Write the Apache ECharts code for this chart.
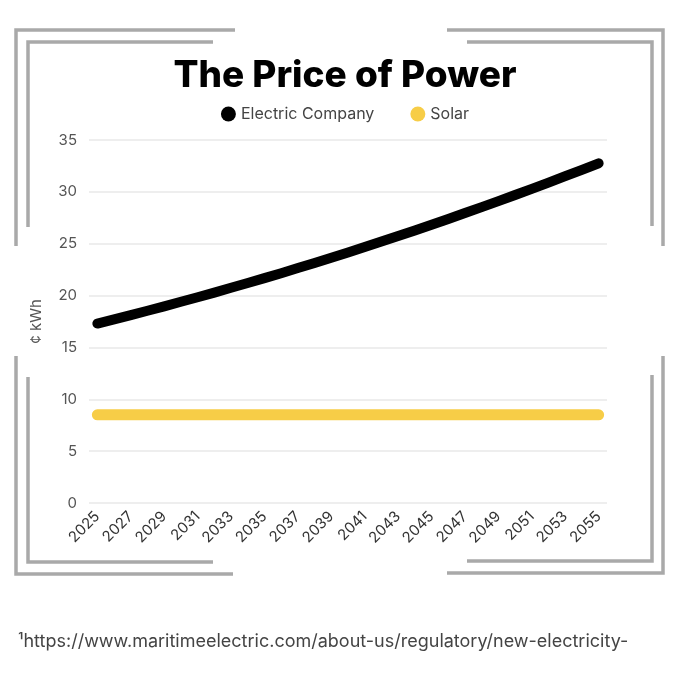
<!DOCTYPE html>
<html>
<head>
<meta charset="utf-8">
<script src="https://cdn.jsdelivr.net/npm/echarts@6/dist/echarts.min.js"></script>
<style>
  html, body { margin: 0; padding: 0; background: #fff; }
  #chart { width: 690px; height: 674px; }
</style>
</head>
<body>
<div id="chart"></div>
<script>
// years on the x axis
const years = [];
for (let y = 2025; y <= 2055; y++) years.push(String(y));

// ¢ per kWh
const electricCompany = [
  17.30, 17.70, 18.12, 18.54, 18.96, 19.40, 19.84, 20.29, 20.75, 21.21,
  21.68, 22.16, 22.65, 23.15, 23.65, 24.16, 24.68, 25.21, 25.74, 26.28,
  26.83, 27.39, 27.96, 28.53, 29.11, 29.70, 30.29, 30.89, 31.51, 32.12, 32.75
];
const solar = [
  8.5, 8.5, 8.5, 8.5, 8.5, 8.5, 8.5, 8.5, 8.5, 8.5,
  8.5, 8.5, 8.5, 8.5, 8.5, 8.5, 8.5, 8.5, 8.5, 8.5,
  8.5, 8.5, 8.5, 8.5, 8.5, 8.5, 8.5, 8.5, 8.5, 8.5, 8.5
];

const FONT = 'Inter, "Noto Sans", sans-serif';
const FRAME = '#a9a9a9';

// corner brackets around the chart
function bracket(points) {
  return {
    type: 'polyline',
    silent: true,
    shape: { points: points },
    style: { stroke: FRAME, lineWidth: 3.5, fill: null }
  };
}

const chart = echarts.init(document.getElementById('chart'));
chart.setOption({
  backgroundColor: '#fff',
  animation: false,
  title: {
    text: 'The Price of Power',
    left: 'center',
    top: 52,
    textStyle: { fontFamily: FONT, fontWeight: 800, fontSize: 37, color: '#000' }
  },
  legend: {
    top: 101,
    left: 'center',
    icon: 'circle',
    itemWidth: 15,
    itemHeight: 15,
    itemGap: 36,
    textStyle: { fontFamily: FONT, fontSize: 16, color: '#444' },
    data: ['Electric Company', 'Solar']
  },
  grid: { left: 89, right: 83, top: 140, bottom: 171 },
  xAxis: {
    type: 'category',
    data: years,
    boundaryGap: true,
    axisLine: { show: false },
    axisTick: { show: false },
    axisLabel: {
      interval: 1,
      rotate: 45,
      margin: 11,
      fontFamily: FONT,
      fontSize: 15,
      color: '#333'
    }
  },
  yAxis: {
    type: 'value',
    min: 0,
    max: 35,
    interval: 5,
    name: '¢ kWh',
    nameLocation: 'middle',
    nameGap: 45,
    nameTextStyle: { fontFamily: FONT, fontSize: 15, color: '#555' },
    axisLabel: { fontFamily: FONT, fontSize: 15, color: '#555', margin: 12 },
    splitLine: { lineStyle: { color: '#e8e8e8', width: 1.5 } }
  },
  series: [
    {
      name: 'Electric Company',
      type: 'line',
      data: electricCompany,
      showSymbol: false,
      itemStyle: { color: '#000' },
      lineStyle: { color: '#000', width: 10, cap: 'round', join: 'round' }
    },
    {
      name: 'Solar',
      type: 'line',
      data: solar,
      showSymbol: false,
      itemStyle: { color: '#f7cd47' },
      lineStyle: { color: '#f7cd47', width: 11, cap: 'round' }
    }
  ],
  graphic: [
    // top-left
    bracket([[235, 30], [16, 30], [16, 246]]),
    bracket([[213, 42], [28, 42], [28, 227]]),
    // top-right
    bracket([[447, 30], [663, 30], [663, 246]]),
    bracket([[467, 42], [652, 42], [652, 226]]),
    // bottom-left
    bracket([[16, 356], [16, 574], [233, 574]]),
    bracket([[28, 377], [28, 562], [213, 562]]),
    // bottom-right
    bracket([[663, 356], [663, 573], [447, 573]]),
    bracket([[652, 375], [652, 561], [467, 561]]),
    {
      type: 'text',
      left: 18,
      top: 633,
      silent: true,
      style: {
        text: '¹https://www.maritimeelectric.com/about-us/regulatory/new-electricity-',
        font: '18px ' + FONT,
        fill: '#444'
      }
    }
  ]
});
</script>
</body>
</html>
